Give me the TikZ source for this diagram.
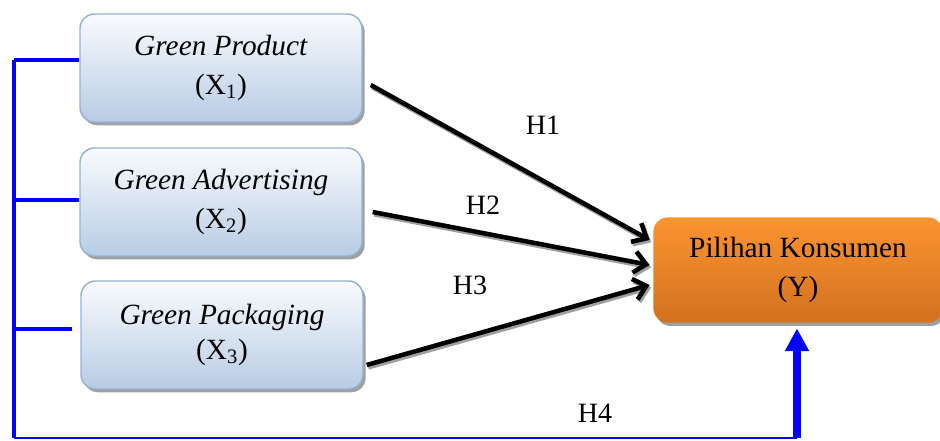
\documentclass[tikz,border=0pt]{standalone}
\usepackage{fontspec}
\setmainfont{Liberation Serif}
\usetikzlibrary{arrows.meta,positioning,calc,shadows}
\definecolor{boxtop}{HTML}{F9FBFE}
\definecolor{boxbot}{HTML}{B8CCE4}
\definecolor{boxedge}{HTML}{95B3D7}
\definecolor{orgtop}{HTML}{FB9431}
\definecolor{orgbot}{HTML}{D2711F}
\definecolor{shadowgray}{HTML}{A0A0A0}
\tikzset{
  varbox/.style = {draw=boxedge, line width=1.1pt, rounded corners=11pt,
                   top color=boxtop, bottom color=boxbot, align=center,
                   minimum width=211.5pt, minimum height=81pt,
                   drop shadow={shadow xshift=2pt, shadow yshift=-2.5pt,
                                fill=shadowgray, opacity=1}},
  depbox/.style = {varbox, draw=none, top color=orgtop, bottom color=orgbot,
                   minimum width=217pt, minimum height=79pt},
  hyp/.style    = {line width=3.4pt, -{Straight Barb[length=9pt,width=16pt]},
                   preaction={draw=shadowgray, line width=3.4pt,
                              transform canvas={shift={(1.2pt,-1.8pt)}}}},
  link/.style   = {draw=blue, line width=3.4pt},
  hlabel/.style = {font=\fontsize{21}{24}\selectfont},
}

\begin{document}
\begin{tikzpicture}[x=0.75pt,y=-0.75pt,font=\fontsize{22}{29}\selectfont]
\useasboundingbox (0,0) rectangle (940,441);
% variables
\node[varbox] (gp)  at (221,68)  {\textit{Green Product}\\(X\textsubscript{1})};
\node[varbox] (ga)  at (221,202) {\textit{Green Advertising}\\(X\textsubscript{2})};
\node[varbox] (gpk) at (222,335) {\textit{Green Packaging}\\[-3pt](X\textsubscript{3})};
\node[depbox] (pk)  at (798,270) {Pilihan Konsumen\\(Y)};
% partial hypotheses
\draw[hyp] ($(gp.east)+(8,17)$)  -- ($(pk.west)+(-3,-30)$);
\draw[hyp] ($(ga.east)+(10,10)$) -- ($(pk.west)+(-3,-5)$);
\draw[hyp] ($(gpk.east)+(3,30)$) -- ($(pk.west)+(-3,15)$);
\node[hlabel] (h1) at (543,125) {H1};
\node[hlabel] (h2) at (483,205) {H2};
\node[hlabel] (h3) at (470,285) {H3};
\node[hlabel] (h4) at (595,413) {H4};
% simultaneous hypothesis
\coordinate (ttop) at (14,60);
\coordinate (tbot) at (14,438);
\coordinate (tend) at (797,438);
\draw[link] (ttop) -- (tbot);
\draw[link] (ttop) -- ($(gp.west)+(0,-8)$);
\draw[link] ($(ttop)+(0,140)$) -- ($(ga.west)+(0,-2)$);
\draw[link] ($(ttop)+(0,269)$) -- ($(gpk.west)+(-8,-6)$);
\draw[draw=blue, line width=1.2pt] (tbot) -- (tend);
\draw[draw=blue, line width=6pt, -{Triangle[length=17pt,width=17pt]}]
  (tend) -- ($(tend |- pk.south)+(0,5)$);
\end{tikzpicture}
\end{document}
